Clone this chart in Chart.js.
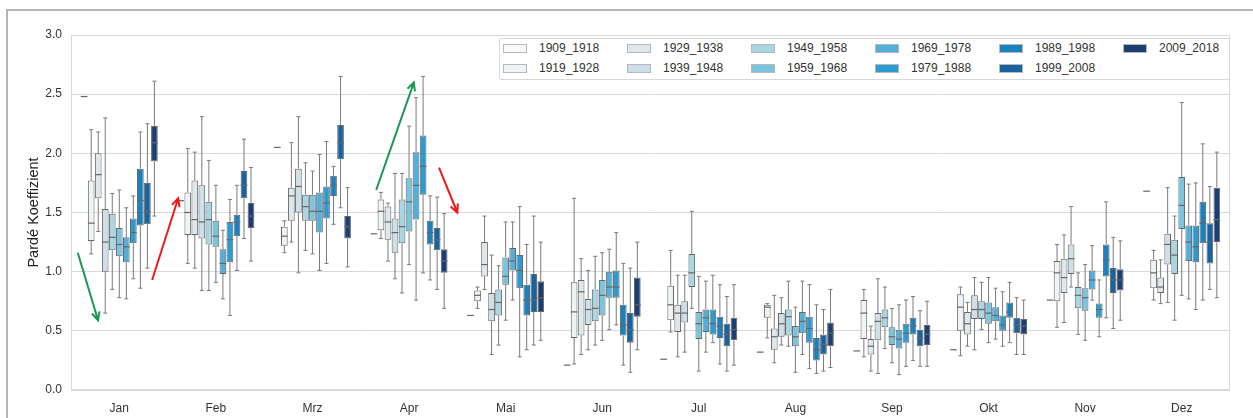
<!DOCTYPE html>
<html>
<head>
<meta charset="utf-8">
<script src="https://cdn.jsdelivr.net/npm/chart.js@4.4.0/dist/chart.umd.min.js"></script>
<style>
body{margin:0;background:#fff;overflow:hidden;font-family:"Liberation Sans",Arial,sans-serif}
#frame{position:absolute;left:6px;top:9px;width:1400px;height:600px;border-left:2px solid #b4b4b4;border-top:2px solid #b4b4b4}
#wrap{position:absolute;left:0;top:0;width:1253px;height:418px}
#legend{position:absolute;left:499px;top:38px;width:729px;height:40px;border:1px solid #d8d8d8;background:#fff;border-radius:2px}
.item{position:absolute;font-size:12px;color:#333;line-height:14px;white-space:nowrap}
.sw{display:inline-block;width:24px;height:9px;border:1px solid #b8b8b8;vertical-align:-1px;margin-right:12px;box-sizing:border-box}
</style>
</head>
<body>
<div id="frame"></div>
<div id="wrap"><canvas id="chart" width="1253" height="418"></canvas></div>
<div id="legend"></div>
<script>
var months = ['Jan','Feb','Mrz','Apr','Mai','Jun','Jul','Aug','Sep','Okt','Nov','Dez'];
var decades = ['1909_1918','1919_1928','1929_1938','1939_1948','1949_1958','1959_1968',
               '1969_1978','1979_1988','1989_1998','1999_2008','2009_2018'];
var colors = ['#f7f9fa','#eef3f5','#dde7ec','#cddfe8','#a8d6e2','#79c4de',
              '#52afd9','#2e9bd0','#1a80be','#1763a0','#1b3e73'];
var yTicks = [0, 0.5, 1, 1.5, 2, 2.5, 3];

// [min, q1, median, q3, max] per month
var d1909 = [[2.48,2.48,2.48,2.48,2.48],[1.60,1.60,1.60,1.60,1.60],[2.05,2.05,2.05,2.05,2.05],[1.32,1.32,1.32,1.32,1.32],
             [0.63,0.63,0.63,0.63,0.63],[0.21,0.21,0.21,0.21,0.21],[0.26,0.26,0.26,0.26,0.26],[0.32,0.32,0.32,0.32,0.32],
             [0.33,0.33,0.33,0.33,0.33],[0.34,0.34,0.34,0.34,0.34],[0.76,0.76,0.76,0.76,0.76],[1.68,1.68,1.68,1.68,1.68]];
var d1919 = [[1.15,1.26,1.41,1.77,2.20],[1.07,1.31,1.50,1.67,2.04],[1.16,1.22,1.30,1.38,1.43],[1.28,1.35,1.51,1.61,1.67],
             [0.69,0.75,0.80,0.84,0.87],[0.22,0.44,0.66,0.91,1.62],[0.49,0.59,0.72,0.88,1.18],[0.44,0.61,0.70,0.72,0.73],
             [0.28,0.43,0.65,0.76,0.85],[0.29,0.50,0.70,0.81,0.87],[0.53,0.75,0.99,1.09,1.23],[0.76,0.86,0.99,1.10,1.18]];
var d1929 = [[1.34,1.62,1.82,2.00,2.18],[1.03,1.31,1.44,1.77,2.01],[1.25,1.43,1.64,1.71,2.09],[1.09,1.27,1.42,1.55,1.58],
             [0.85,0.96,1.06,1.25,1.47],[0.30,0.46,0.83,0.93,1.11],[0.28,0.49,0.65,0.72,0.97],[0.23,0.34,0.45,0.52,0.80],
             [0.16,0.30,0.37,0.43,0.54],[0.37,0.47,0.56,0.66,0.74],[0.57,0.82,0.95,1.11,1.31],[0.73,0.82,0.87,0.95,1.10]];
var d1939 = [[0.65,1.00,1.25,1.53,2.30],[0.84,1.28,1.42,1.73,2.31],[0.99,1.50,1.72,1.87,2.31],[0.94,1.16,1.33,1.45,1.83],
             [0.30,0.58,0.68,0.82,1.14],[0.34,0.55,0.68,0.77,1.01],[0.32,0.57,0.65,0.75,0.97],[0.38,0.45,0.56,0.65,0.78],
             [0.14,0.42,0.58,0.65,0.94],[0.34,0.60,0.68,0.80,0.95],[0.87,0.98,1.11,1.23,1.55],[0.74,1.06,1.23,1.32,1.71]];
var d1949 = [[0.85,1.18,1.29,1.49,1.66],[0.84,1.23,1.44,1.59,1.94],[1.18,1.43,1.55,1.65,1.92],[0.82,1.24,1.38,1.61,1.83],
             [0.38,0.63,0.74,0.85,1.05],[0.38,0.58,0.69,0.85,1.13],[0.69,0.87,0.99,1.15,1.51],[0.37,0.46,0.62,0.68,0.92],
             [0.35,0.53,0.61,0.68,0.87],[0.51,0.60,0.68,0.75,0.91],[0.47,0.69,0.80,0.87,0.99],[0.59,0.98,1.14,1.27,1.47]];
var d1959 = [[0.78,1.13,1.23,1.37,1.69],[0.91,1.21,1.30,1.43,1.73],[1.15,1.43,1.51,1.65,1.85],[1.06,1.34,1.59,1.79,2.23],
             [0.59,0.89,0.96,1.12,1.42],[0.42,0.63,0.80,0.93,1.16],[0.16,0.43,0.56,0.66,0.96],[0.15,0.37,0.45,0.54,0.70],
             [0.23,0.38,0.45,0.53,0.69],[0.40,0.56,0.65,0.74,0.95],[0.42,0.67,0.78,0.86,1.06],[0.80,1.36,1.56,1.80,2.43]];
var d1969 = [[0.77,1.08,1.21,1.29,1.54],[0.77,0.98,1.07,1.19,1.35],[1.01,1.33,1.51,1.67,1.99],[0.76,1.44,1.73,2.01,2.47],
             [0.76,1.01,1.09,1.20,1.42],[0.51,0.78,0.87,1.00,1.19],[0.32,0.49,0.61,0.68,0.92],[0.30,0.48,0.58,0.66,0.92],
             [0.13,0.35,0.43,0.51,0.72],[0.43,0.58,0.63,0.70,0.86],[0.76,0.85,0.93,1.01,1.22],[0.77,1.09,1.25,1.39,1.74]];
var d1979 = [[0.94,1.24,1.33,1.45,1.64],[0.63,1.08,1.27,1.42,1.61],[1.07,1.45,1.58,1.72,2.10],[0.99,1.65,1.89,2.15,2.65],
             [0.28,0.86,1.01,1.14,1.55],[0.55,0.78,0.87,1.01,1.33],[0.40,0.47,0.56,0.68,0.97],[0.18,0.40,0.52,0.62,0.89],
             [0.20,0.40,0.48,0.56,0.76],[0.37,0.50,0.55,0.63,0.83],[0.45,0.61,0.68,0.73,0.93],[0.68,1.08,1.21,1.39,1.75]];
var d1989 = [[0.86,1.39,1.60,1.87,2.18],[1.01,1.30,1.42,1.48,1.73],[1.40,1.64,1.73,1.81,1.89],[0.93,1.23,1.33,1.43,1.64],
             [0.34,0.63,0.76,0.89,1.23],[0.21,0.46,0.55,0.72,1.07],[0.22,0.44,0.54,0.62,0.89],[0.14,0.25,0.34,0.44,0.72],
             [0.25,0.47,0.54,0.61,0.79],[0.40,0.61,0.66,0.74,0.91],[0.61,0.96,1.10,1.23,1.59],[0.76,1.24,1.41,1.59,2.08]];
var d1999 = [[1.03,1.40,1.51,1.75,2.25],[1.28,1.62,1.73,1.85,2.12],[1.54,1.95,2.09,2.24,2.65],[0.85,1.18,1.27,1.37,1.63],
             [0.38,0.66,0.76,0.98,1.47],[0.15,0.40,0.51,0.65,1.03],[0.16,0.37,0.47,0.56,0.79],[0.16,0.30,0.38,0.47,0.68],
             [0.20,0.37,0.44,0.51,0.67],[0.30,0.48,0.55,0.61,0.78],[0.52,0.82,0.93,1.03,1.29],[0.85,1.07,1.25,1.41,1.72]];
var d2009 = [[1.47,1.93,2.09,2.23,2.61],[1.09,1.37,1.47,1.58,1.88],[1.04,1.28,1.38,1.47,1.71],[0.69,0.99,1.09,1.19,1.49],
             [0.42,0.66,0.78,0.92,1.25],[0.34,0.62,0.72,0.95,1.25],[0.21,0.42,0.51,0.61,0.89],[0.19,0.37,0.48,0.57,0.85],
             [0.20,0.38,0.47,0.55,0.75],[0.30,0.47,0.54,0.60,0.76],[0.59,0.84,0.93,1.02,1.26],[0.78,1.25,1.44,1.71,2.01]];
var stats = [d1909,d1919,d1929,d1939,d1949,d1959,d1969,d1979,d1989,d1999,d2009];

// annotation arrows: [category position, value]
var arrows = [
  {from:[-0.43,1.16], to:[-0.22,0.59], color:'#1a9850'},
  {from:[0.34,0.93],  to:[0.61,1.62],  color:'#f01818'},
  {from:[2.66,1.69],  to:[3.05,2.60],  color:'#1a9850'},
  {from:[3.31,1.88],  to:[3.50,1.50],  color:'#f01818'}
];

var datasets = [];
for(var i = 0; i < decades.length; i++){
	datasets.push({
		label: decades[i],
		data: stats[i].map(function(s){ return [s[1], s[3]]; }),
		stats: stats[i],
		backgroundColor: colors[i],
		borderColor: '#666',
		borderWidth: 1,
		borderSkipped: false
	});
}

function drawArrow(ctx, x1, y1, x2, y2, color){
	var a = Math.atan2(y2 - y1, x2 - x1), h = 9, w = 0.45;
	ctx.save();
	ctx.strokeStyle = color;
	ctx.lineWidth = 2;
	ctx.beginPath();
	ctx.moveTo(x1, y1); ctx.lineTo(x2, y2);
	ctx.moveTo(x2 - h*Math.cos(a - w), y2 - h*Math.sin(a - w));
	ctx.lineTo(x2, y2);
	ctx.lineTo(x2 - h*Math.cos(a + w), y2 - h*Math.sin(a + w));
	ctx.stroke();
	ctx.restore();
}

var boxPlugin = {
	id: 'boxes',
	beforeDatasetsDraw: function(chart){
		var ctx = chart.ctx, y = chart.scales.y, a = chart.chartArea;
		ctx.save();
		ctx.strokeStyle = '#d9d9d9';
		ctx.lineWidth = 1;
		ctx.strokeRect(a.left + 0.5, a.top + 0.5, a.right - a.left - 1, a.bottom - a.top - 1);
		ctx.strokeStyle = '#7a7a7a';
		chart.data.datasets.forEach(function(ds, i){
			chart.getDatasetMeta(i).data.forEach(function(bar, j){
				var s = ds.stats[j], cap = bar.width * 0.3;
				if(s[0] == s[4]) return;
				ctx.beginPath();
				ctx.moveTo(bar.x, y.getPixelForValue(s[0])); ctx.lineTo(bar.x, y.getPixelForValue(s[1]));
				ctx.moveTo(bar.x, y.getPixelForValue(s[3])); ctx.lineTo(bar.x, y.getPixelForValue(s[4]));
				ctx.moveTo(bar.x - cap, y.getPixelForValue(s[0])); ctx.lineTo(bar.x + cap, y.getPixelForValue(s[0]));
				ctx.moveTo(bar.x - cap, y.getPixelForValue(s[4])); ctx.lineTo(bar.x + cap, y.getPixelForValue(s[4]));
				ctx.stroke();
			});
		});
		ctx.restore();
	},
	afterDatasetsDraw: function(chart){
		var ctx = chart.ctx, x = chart.scales.x, y = chart.scales.y;
		ctx.save();
		ctx.strokeStyle = '#666';
		ctx.lineWidth = 1.2;
		chart.data.datasets.forEach(function(ds, i){
			chart.getDatasetMeta(i).data.forEach(function(bar, j){
				var m = y.getPixelForValue(ds.stats[j][2]);
				ctx.beginPath();
				ctx.moveTo(bar.x - bar.width/2, m); ctx.lineTo(bar.x + bar.width/2, m);
				ctx.stroke();
			});
		});
		ctx.restore();
		arrows.forEach(function(ar){
			drawArrow(ctx, x.getPixelForValue(ar.from[0]), y.getPixelForValue(ar.from[1]),
			               x.getPixelForValue(ar.to[0]), y.getPixelForValue(ar.to[1]), ar.color);
		});
	}
};

new Chart(document.getElementById('chart'), {
	type: 'bar',
	data: { labels: months, datasets: datasets },
	options: {
		responsive: false,
		animation: false,
		layout: { padding: { left: 19, right: 23, top: 35, bottom: 0 } },
		categoryPercentage: 0.8,
		barPercentage: 0.95,
		plugins: { legend: { display: false }, tooltip: { enabled: false } },
		scales: {
			x: {
				grid: { display: false, drawTicks: false },
				border: { display: false },
				ticks: { padding: 11, color: '#333', font: { size: 12, family: 'Liberation Sans' } },
				afterFit: function(s){ s.height = 28; }
			},
			y: {
				min: 0, max: 3,
				afterBuildTicks: function(s){ s.ticks = yTicks.map(function(v){ return {value: v}; }); },
				grid: { color: '#d9d9d9', drawTicks: false },
				border: { display: false },
				ticks: { padding: 9, color: '#333', font: { size: 12, family: 'Liberation Sans' },
					callback: function(v){ return v.toFixed(1); } },
				title: { display: true, text: 'Pardé Koeffizient', color: '#222', padding: { top: 6, bottom: 0 },
					font: { size: 14.5, family: 'Liberation Sans' } },
				afterFit: function(s){ s.width = 52; }
			}
		}
	},
	plugins: [boxPlugin]
});

var legend = document.getElementById('legend');
decades.forEach(function(d, i){
	var it = document.createElement('div');
	it.className = 'item';
	it.style.left = (3 + Math.floor(i / 2) * 124) + 'px';
	it.style.top = (i % 2 ? 22 : 2) + 'px';
	it.innerHTML = '<span class="sw" style="background:' + colors[i] + '"></span>' + d;
	legend.appendChild(it);
});
</script>
</body>
</html>
